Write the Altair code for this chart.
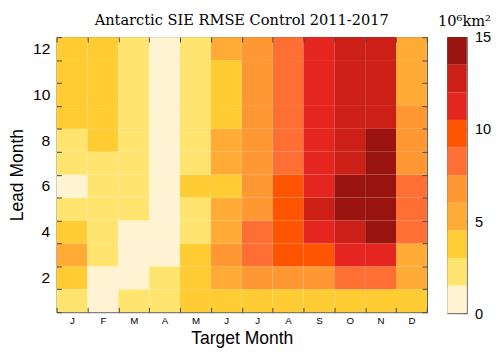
import altair as alt
import pandas as pd

months = ["J", "F", "M", "A", "M", "J", "J", "A", "S", "O", "N", "D"]
leads = list(range(1, 13))

# RMSE (10^6 km^2) by target month, for lead months 1..12
rmse_jan = [2.6, 4.0, 5.1, 4.3, 2.9, 1.2, 2.4, 2.8, 3.6, 3.9, 4.1, 4.2]
rmse_feb = [1.1, 1.3, 2.2, 2.5, 2.6, 2.7, 2.8, 3.3, 3.6, 3.8, 3.9, 4.0]
rmse_mar = [1.9, 1.2, 1.0, 1.3, 2.1, 2.3, 2.4, 2.5, 2.6, 2.6, 2.7, 2.7]
rmse_apr = [2.1, 1.8, 1.2, 0.9, 0.8, 0.9, 1.0, 1.1, 1.1, 1.2, 1.2, 1.3]
rmse_may = [3.6, 4.1, 3.9, 2.7, 2.8, 3.2, 2.8, 2.7, 2.8, 2.9, 2.9, 2.9]
rmse_jun = [4.2, 5.4, 6.3, 5.6, 5.3, 4.4, 4.7, 5.0, 4.3, 4.4, 4.4, 4.5]
rmse_jul = [4.1, 6.6, 8.1, 8.4, 7.2, 6.9, 6.8, 6.9, 7.0, 7.0, 7.1, 7.1]
rmse_aug = [4.3, 7.1, 9.6, 10.2, 10.1, 9.8, 8.6, 8.7, 8.8, 8.8, 8.9, 8.9]
rmse_sep = [4.4, 7.3, 10.3, 11.6, 12.4, 11.8, 11.5, 11.4, 11.5, 11.6, 11.7, 11.8]
rmse_oct = [4.2, 8.2, 11.3, 13.1, 14.1, 13.9, 13.2, 13.0, 12.9, 12.9, 13.0, 13.1]
rmse_nov = [4.1, 8.0, 11.2, 14.0, 14.3, 14.2, 13.9, 13.8, 13.3, 13.2, 13.3, 13.4]
rmse_dec = [3.9, 5.3, 5.6, 8.1, 8.3, 8.0, 7.1, 6.8, 6.6, 5.8, 5.7, 5.6]

bin_edges = [0, 1.5, 3, 4.5, 6, 7.5, 9, 10.5, 12, 13.5, 15]
bin_colors = ["#FFF3D2", "#FFE470", "#FFCC33", "#FFAB35", "#FF9833",
              "#FF6F33", "#FF5500", "#E52620", "#CC1F16", "#99140E"]
cbar_ticks = [0, 5, 10, 15]

all_months = [rmse_jan, rmse_feb, rmse_mar, rmse_apr, rmse_may, rmse_jun,
              rmse_jul, rmse_aug, rmse_sep, rmse_oct, rmse_nov, rmse_dec]
rows = []
for mi, vals in enumerate(all_months):
    for lead, v in zip(leads, vals):
        rows.append({"m": mi + 1, "lead": lead, "rmse": v})
df = pd.DataFrame(rows)

cb = pd.DataFrame({"lo": bin_edges[:-1], "hi": bin_edges[1:], "c": bin_colors})

label_expr = "[" + ",".join("'%s'" % m for m in months) + "][datum.value - 1]"
color_scale = alt.Scale(type="threshold", domain=bin_edges[1:-1], range=bin_colors)
band = alt.Scale(paddingInner=0, paddingOuter=0)

base = alt.Chart(df)
heat = base.mark_rect().encode(
    x=alt.X("m:O", scale=band, axis=alt.Axis(
        title="Target Month", labelExpr=label_expr, tickBand="extent", labelAngle=0,
        offset=-5, tickSize=5, domain=False, labelPadding=4, labelFontSize=10,
        titleFontSize=18, titlePadding=4, orient="bottom")),
    y=alt.Y("lead:O", sort="descending", scale=band, axis=alt.Axis(
        title="Lead Month", labelExpr="datum.value % 2 == 0 ? datum.label : ''",
        tickBand="extent", offset=-5, tickSize=5, domain=False, labelPadding=7,
        labelFontSize=16, titleFontSize=18, titlePadding=6, orient="left")),
    color=alt.Color("rmse:Q", scale=color_scale, legend=None),
)
frame = base.mark_rect(opacity=0).encode(
    x=alt.X("m:O", scale=band, axis=alt.Axis(
        title=None, labels=False, tickBand="extent", offset=-5, tickSize=5,
        domain=False, orient="top", minExtent=0, maxExtent=0)),
    y=alt.Y("lead:O", sort="descending", scale=band, axis=alt.Axis(
        title=None, labels=False, tickBand="extent", offset=-5, tickSize=5,
        domain=False, orient="right", minExtent=0, maxExtent=0)),
)
main = alt.layer(heat, frame).resolve_axis(x="independent", y="independent").properties(
    width=381, height=283,
    title=alt.TitleParams("Antarctic SIE RMSE Control 2011-2017", font="DejaVu Serif",
                          fontSize=15, fontWeight="normal", anchor="middle", offset=1,
                          frame="group"),
)

cbar = alt.Chart(cb).mark_rect().encode(
    x=alt.value(0), x2=alt.value(20),
    y=alt.Y("lo:Q", scale=alt.Scale(domain=[0, 15], nice=False), axis=alt.Axis(
        orient="right", values=cbar_ticks, title="10⁶km²", titleFont="DejaVu Serif",
        titleFontSize=15, titleAngle=0, titleAlign="left", titleBaseline="alphabetic",
        titleX=-26, titleY=-12,
        offset=-4, tickSize=4,
        domain=False, labelPadding=8, labelFontSize=15, grid=False)),
    y2="hi:Q",
    color=alt.Color("c:N", scale=None),
).properties(width=20, height=284)

chart = alt.hconcat(main, cbar, spacing=9).properties(padding=0).configure_view(
    stroke="#444444", strokeWidth=1
).configure_axis(
    tickColor="#444444", labelColor="#000000", titleColor="#000000",
    labelFont="Liberation Sans", titleFont="Liberation Sans",
    titleFontWeight="normal", grid=False,
)

chart.save("out.html", embed_options={"renderer": "svg", "actions": False})
